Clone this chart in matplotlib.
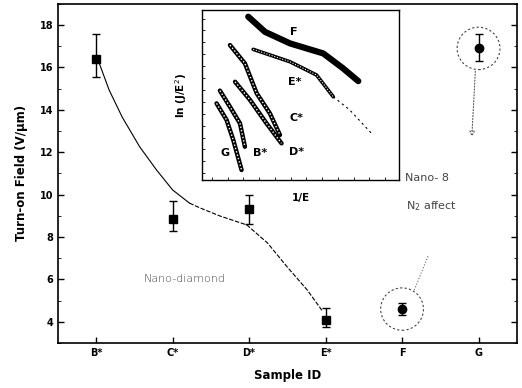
import matplotlib
matplotlib.use('Agg')
import matplotlib.pyplot as plt
from matplotlib.patches import Ellipse

# Main panel data
samples = ['B*', 'C*', 'D*', 'E*', 'F', 'G']
field = [16.4, 8.85, 9.3, 4.1, 4.6, 16.9]
err_lo = [0.85, 0.55, 0.7, 0.35, 0.3, 0.6]
err_hi = [1.2, 0.85, 0.7, 0.55, 0.3, 0.7]

# hand-drawn guide line through the nano-diamond points
trend_x = [0, 0.04, 0.17, 0.34, 0.57, 0.79, 1.0, 1.22, 1.36, 1.62, 1.97, 2.24, 2.50, 2.76, 2.96]
trend_y = [16.4, 16.2, 14.93, 13.66, 12.25, 11.16, 10.22, 9.60, 9.37, 8.99, 8.57, 7.72, 6.58, 5.50, 4.5]

# Inset F-N curves (arbitrary units)
fn_curves = {
    'F':  ([23.5, 32.0, 44.7, 61.6, 71.7, 79.4], [96.1, 87.2, 80.4, 74.5, 65.7, 58.2]),
    'E*': ([26.0, 39.6, 44.7, 58.2, 66.7, 75.1, 86.1], [76.9, 71.6, 69.6, 61.8, 49.0, 41.2, 27.5]),
    'C*': ([14.2, 21.8, 27.8, 34.5, 39.6], [79.4, 68.6, 51.0, 39.2, 26.5]),
    'D*': ([16.8, 24.4, 32.8, 40.4], [57.8, 47.1, 33.3, 21.6]),
    'B*': ([9.1, 14.2, 19.3, 21.8], [52.6, 43.1, 33.3, 19.6]),
    'G':  ([7.4, 12.5, 15.9, 20.1], [45.1, 35.3, 23.5, 5.9]),
}
fn_labels = {'F': (46.4, 87.2), 'E*': (47.2, 57.8), 'C*': (48.0, 36.3),
             'D*': (48.0, 16.7), 'G': (11.7, 15.7), 'B*': (29.4, 15.7)}

plt.rcParams['font.family'] = ['DejaVu Sans']

fig = plt.figure(figsize=(5.22, 3.88), dpi=100)
ax = fig.add_axes([0.111, 0.116, 0.879, 0.874])

xs = list(range(len(samples)))
ax.errorbar(xs[:4], field[:4], yerr=[err_lo[:4], err_hi[:4]], fmt='s', color='black',
            markersize=6, capsize=3, elinewidth=1, capthick=1)
ax.errorbar(xs[4:], field[4:], yerr=[err_lo[4:], err_hi[4:]], fmt='o', color='black',
            markersize=6, capsize=3, elinewidth=1, capthick=1)

ax.plot(trend_x[:8], trend_y[:8], color='black', lw=0.8)
ax.plot(trend_x[7:], trend_y[7:], color='black', lw=0.8, ls=(0, (4, 1.5)))

# dashed circles around the Nano-8 points
for i in (4, 5):
    ax.add_patch(Ellipse((xs[i], field[i]), 0.56, 2.0, fill=False, ls=(0, (2, 2)),
                         lw=0.8, color='#444'))

ax.annotate('', xy=(4.91, 12.6), xytext=(4.96, 15.95),
            arrowprops=dict(arrowstyle='-|>', ls=':', color='#555', lw=0.8,
                            mutation_scale=8, fc='white'))
ax.plot([4.16, 4.34], [5.5, 7.1], color='#666', lw=0.8, ls=':')

ax.text(1.16, 6.0, 'Nano-diamond', ha='center', va='center', fontsize=8,
        color='#444', fontweight='light')
ax.text(4.32, 10.8, 'Nano- 8', ha='center', va='center', fontsize=8, color='#444')
ax.text(4.38, 9.45, r'N$_2$ affect', ha='center', va='center', fontsize=8, color='#444')

ax.set_xlim(-0.5, 5.5)
ax.set_ylim(3, 19)
ax.set_xticks(xs)
ax.set_xticklabels(samples, fontweight='bold', fontsize=7)
ax.set_yticks([4, 6, 8, 10, 12, 14, 16, 18])
ax.set_yticks(range(3, 20), minor=True)
for lab in ax.get_yticklabels():
    lab.set_fontweight('bold')
    lab.set_fontsize(7)
ax.tick_params(direction='in', length=4, width=1, right=True)
ax.tick_params(which='minor', direction='in', length=2, right=True)
ax.set_xlabel('Sample ID', fontweight='bold', fontsize=8.5, labelpad=8)
ax.set_ylabel('Turn-on Field (V/\u03bcm)', fontweight='bold', fontsize=8.5, labelpad=8)
for s in ax.spines.values():
    s.set_linewidth(1.2)

# Inset
ins = fig.add_axes([0.387, 0.536, 0.377, 0.438])
for name, (cx, cy) in fn_curves.items():
    if name == 'F':
        ins.plot(cx, cy, color='black', lw=4.5, solid_capstyle='round')
    elif name == 'E*':
        ins.plot(cx[:5], cy[:5], color='black', lw=2.6, solid_capstyle='round')
        ins.plot(cx[:5], cy[:5], color='white', lw=0.8, ls=(0, (1, 1.5)))
        ins.plot(cx[4:], cy[4:], color='black', lw=0.8, ls=(0, (2, 3)))
    else:
        ins.plot(cx, cy, color='black', lw=3.2, solid_capstyle='round')
        ins.plot(cx, cy, color='white', lw=1.0, ls=(0, (1, 1.5)))
for name, (lx, ly) in fn_labels.items():
    ins.text(lx, ly, name, ha='center', va='center', fontweight='bold', fontsize=8)
ins.set_xlim(0, 100)
ins.set_ylim(0, 100)
ins.set_xticks(range(5, 100, 8))
ins.set_yticks(range(4, 100, 7))
ins.set_xticklabels([])
ins.set_yticklabels([])
ins.tick_params(direction='in', length=2, width=0.6)
ins.set_xlabel('1/E', fontweight='bold', fontsize=7.5, labelpad=6)
ins.set_ylabel('ln (J/E$^2$)', fontweight='bold', fontsize=7.5, labelpad=6)
for s in ins.spines.values():
    s.set_linewidth(1.0)

fig.savefig('out.png', dpi=100)
